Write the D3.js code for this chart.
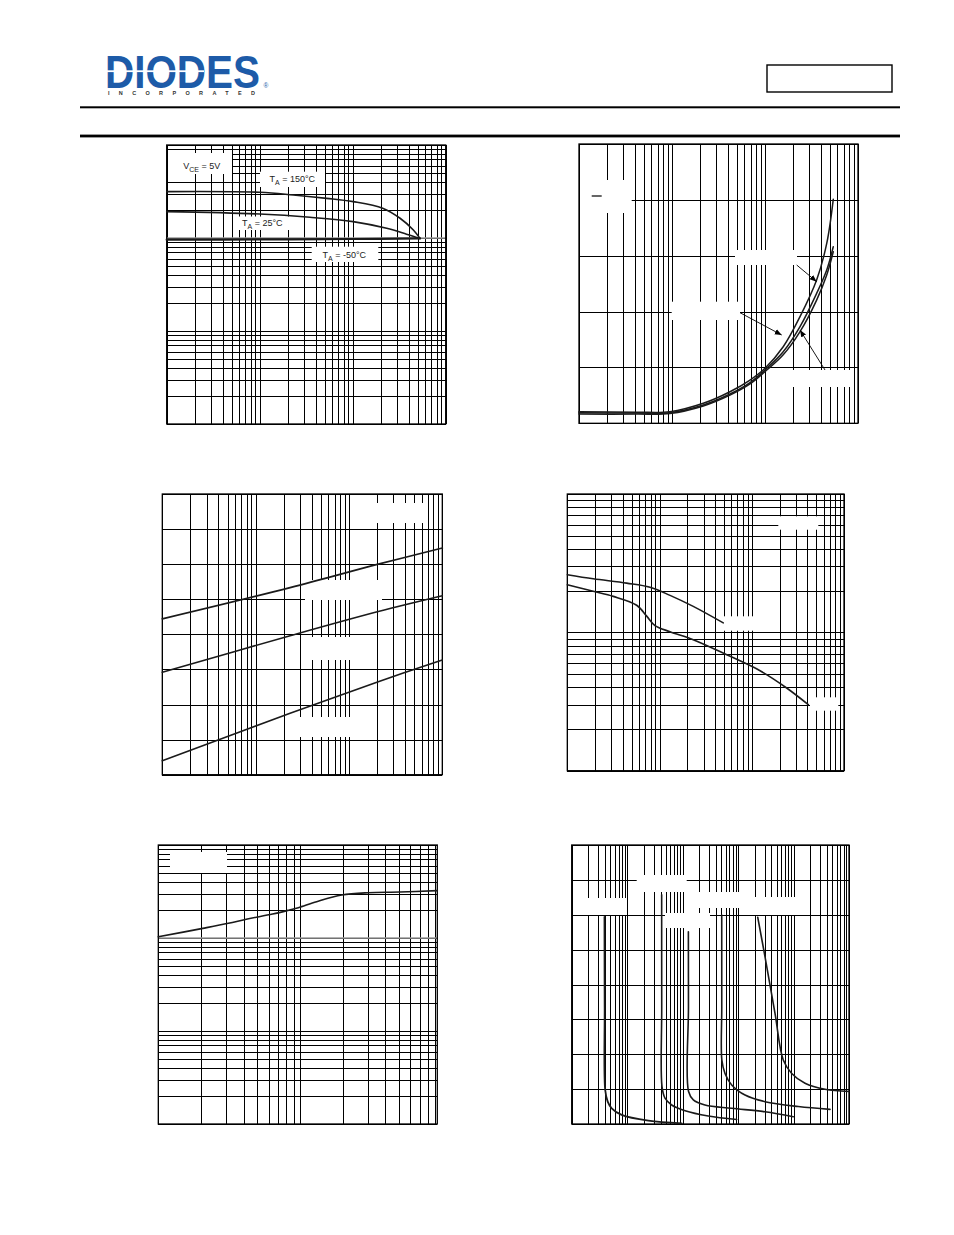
<!DOCTYPE html>
<html><head><meta charset="utf-8">
<script src="https://cdn.jsdelivr.net/npm/d3@7"></script>
<style>body{margin:0;background:#fff;} svg{display:block;}</style>
</head><body>
<svg id="page" width="954" height="1235"></svg>
<script>
// ---------- DATA ----------
// Chart 1 (log-log): three temperature curves
const c1x150 = [1, 10, 23, 52.5, 101, 210, 323, 449, 529];
const c1y150 = [315, 310, 290, 267, 246, 209, 163, 122, 99];
const c1x25  = [1, 10, 34.7, 101, 232, 379, 529];
const c1y25  = [192, 181, 167, 150, 127, 110, 99];
const c1xM50 = [1, 10, 100, 529];
const c1yM50 = [96, 96.5, 97.5, 99];
const c1Labels = ["V", "CE", " = 5V", "T", "A", " = 150°C", " = 25°C", " = -50°C"];

// Chart 2 (log x, linear y): three rising curves
const c2x  = [1, 4.17, 9.5, 21.7, 42.0, 69.0, 100, 157, 238, 359, 461, 542];
const c2yA = [0.0415, 0.040, 0.0415, 0.0716, 0.113, 0.155, 0.197, 0.274, 0.382, 0.513, 0.644, 0.802];
const c2yB = [0.038, 0.037, 0.038, 0.0655, 0.105, 0.146, 0.191, 0.256, 0.346, 0.465, 0.549, 0.632];
const c2yC = [0.033, 0.033, 0.035, 0.062, 0.101, 0.141, 0.185, 0.245, 0.328, 0.441, 0.531, 0.614];

// Chart 3 (log x, linear y): three straight-ish lines
const c3x  = [1, 23.4, 206, 1000];
const c3y1 = [4.44, 5.33, 6.00, 6.46];
const c3y2 = [2.92, 3.96, 4.65, 5.10];
const c3y3 = [0.40, 1.75, 2.65, 3.27];

// Chart 4 (log-log): two falling curves
const c4xA = [1, 1.91, 4.40, 7.88, 13.0, 23.2, 49.1];
const c4yA = [26.1, 24.4, 22.7, 21.2, 18.5, 15.4, 11.7];
const c4xB = [1, 1.91, 3.15, 5.65, 7.26, 8.93, 13.0, 23.2, 53.5, 123, 239, 410];
const c4yB = [22.1, 19.8, 18.2, 15.7, 13.1, 11.2, 10.1, 8.85, 6.89, 5.28, 3.96, 3.0];

// Chart 5 (log-log): one rising curve
const c5x = [1, 2.06, 3.12, 4.25, 6.41, 8.41, 9.73, 13.1, 19.7, 30.3, 50.8, 93];
const c5y = [103, 127, 144, 160, 181, 200, 212, 246, 290, 307, 312, 323];

// Chart 6 (log x, linear y): five drop-off curves
const c6x1 = [3.90, 3.93, 4.02, 4.46, 5.26, 7.97, 24.1, 96.2];
const c6y1 = [5.94, 3.36, 0.975, 0.64, 0.45, 0.26, 0.095, 0.02];
const c6x2 = [41.9, 42.0, 42.5, 48.1, 63.5, 111, 290, 944];
const c6y2 = [6.57, 3.36, 1.07, 0.74, 0.545, 0.38, 0.23, 0.13];
const c6x3 = [127, 127.5, 128, 156, 253, 767, 3055, 9910];
const c6y3 = [5.51, 3.36, 0.93, 0.69, 0.545, 0.45, 0.35, 0.21];
const c6x4 = [507, 508, 510, 581, 767, 1334, 3055, 12190, 45400];
const c6y4 = [5.99, 3.36, 1.835, 1.45, 1.12, 0.83, 0.64, 0.50, 0.42];
const c6x5 = [2259, 3055, 4634, 6530, 9270, 16100, 36900, 100000];
const c6y5 = [5.93, 4.80, 3.17, 1.835, 1.45, 1.17, 0.995, 0.93];

// ---------- LAYOUT ----------
const svg = d3.select('#page');
const FONT = "'Liberation Sans', Arial, sans-serif";

// Header
svg.append('text').attr('x', 105).attr('y', 88).attr('font-family', FONT)
  .attr('font-weight', 'bold').attr('font-size', 46).attr('fill', '#1d5ba8')
  .attr('textLength', 155).attr('lengthAdjust', 'spacingAndGlyphs').text('DIODES');
svg.append('rect').attr('x', 104).attr('y', 70.3).attr('width', 100).attr('height', 1.8).attr('fill', '#fff');
svg.append('text').attr('x', 108).attr('y', 95).attr('font-family', FONT)
  .attr('font-weight', 'bold').attr('font-size', 5.5).attr('fill', '#333')
  .attr('textLength', 147).attr('lengthAdjust', 'spacing').text('INCORPORATED');
svg.append('text').attr('x', 263.5).attr('y', 87.5).attr('font-family', FONT)
  .attr('font-size', 6.5).attr('fill', '#1d5ba8').text('®');
svg.append('rect').attr('x', 767).attr('y', 65).attr('width', 125).attr('height', 27)
  .attr('fill', 'none').attr('stroke', '#000').attr('stroke-width', 1.4);
svg.append('rect').attr('x', 80).attr('y', 106.3).attr('width', 820).attr('height', 2).attr('fill', '#000');
svg.append('rect').attr('x', 80).attr('y', 134.6).attr('width', 820).attr('height', 2.8).attr('fill', '#000');

// Arrow marker
svg.append('defs').append('marker').attr('id', 'arr').attr('viewBox', '0 0 10 10')
  .attr('refX', 10).attr('refY', 5).attr('markerWidth', 7).attr('markerHeight', 7)
  .attr('markerUnits', 'userSpaceOnUse').attr('orient', 'auto')
  .append('path').attr('d', 'M0,1 L10,5 L0,9 Z').attr('fill', '#000');

function chart(cfg) {
  const g = svg.append('g');
  const x = (cfg.xLog ? d3.scaleLog() : d3.scaleLinear()).domain(cfg.xDomain).range([cfg.x0, cfg.x1]);
  const y = (cfg.yLog ? d3.scaleLog() : d3.scaleLinear()).domain(cfg.yDomain).range([cfg.y1, cfg.y0]);
  const xt = cfg.xLog ? x.ticks() : x.ticks(cfg.xDivs);
  const yt = cfg.yLog ? y.ticks() : y.ticks(cfg.yDivs);
  const gx = g.append('g').attr('transform', `translate(0,${cfg.y1})`)
    .call(d3.axisBottom(x).tickValues(xt).tickSize(-(cfg.y1 - cfg.y0)).tickFormat(''));
  const gy = g.append('g').attr('transform', `translate(${cfg.x0},0)`)
    .call(d3.axisLeft(y).tickValues(yt).tickSize(-(cfg.x1 - cfg.x0)).tickFormat(''));
  [gx, gy].forEach(a => {
    a.select('.domain').remove();
    a.selectAll('line').attr('stroke', '#000').attr('stroke-width', 1).attr('shape-rendering', 'crispEdges');
  });
  if (cfg.grayY) {
    g.append('line').attr('x1', cfg.x0).attr('x2', cfg.x1)
      .attr('y1', y(cfg.grayY)).attr('y2', y(cfg.grayY))
      .attr('stroke', '#9a9a9a').attr('stroke-width', 1.6);
  }
  g.append('rect').attr('x', cfg.x0).attr('y', cfg.y0).attr('width', cfg.x1 - cfg.x0)
    .attr('height', cfg.y1 - cfg.y0).attr('fill', 'none').attr('stroke', '#000').attr('stroke-width', 1.3);
  (cfg.boxes || []).forEach(b => {
    g.append('rect').attr('x', b[0]).attr('y', b[1]).attr('width', b[2] - b[0]).attr('height', b[3] - b[1]).attr('fill', '#fff');
  });
  const line = d3.line().x(d => x(d[0])).y(d => y(d[1])).curve(d3.curveCatmullRom.alpha(0.5));
  cfg.series.forEach(s => {
    const pts = s[0].map((v, i) => [v, s[1][i]]);
    g.append('path').attr('d', line(pts)).attr('fill', 'none').attr('stroke', '#1a1a1a')
      .attr('stroke-width', s[2] || 1.6).attr('stroke-linejoin', 'round').attr('stroke-linecap', 'round');
  });
  return { g, x, y };
}

// Chart 1
const ch1 = chart({ x0: 166.7, x1: 445.7, y0: 145, y1: 424, xLog: true, yLog: true,
  xDomain: [1, 1000], yDomain: [1, 1000], grayY: 100,
  boxes: [[168, 153, 232, 174], [260, 171.7, 325, 187], [238, 216.5, 290, 230], [311.7, 246.7, 378.3, 262]],
  series: [[c1x150, c1y150, 1.6], [c1x25, c1y25, 1.6], [c1xM50, c1yM50, 2.2]] });
function label(g, xp, yp, main, sub, rest) {
  const t = g.append('text').attr('x', xp).attr('y', yp).attr('font-family', FONT)
    .attr('font-size', 9).attr('fill', '#222');
  t.append('tspan').text(main);
  t.append('tspan').attr('dy', 3).attr('font-size', 7).text(sub);
  t.append('tspan').attr('dy', -3).text(rest);
}
label(ch1.g, 183.3, 168.5, c1Labels[0], c1Labels[1], c1Labels[2]);
label(ch1.g, 269.5, 182, c1Labels[3], c1Labels[4], c1Labels[5]);
label(ch1.g, 242, 226, c1Labels[3], c1Labels[4], c1Labels[6]);
label(ch1.g, 322.5, 258, c1Labels[3], c1Labels[4], c1Labels[7]);

// Chart 2
const ch2 = chart({ x0: 579, x1: 858, y0: 144, y1: 423.3, xLog: true, yLog: false,
  xDomain: [1, 1000], yDomain: [0, 1], yDivs: 5,
  boxes: [[580, 180, 631.7, 213], [735, 250, 797, 265], [671.7, 301.7, 740, 320], [793, 370, 850, 387]],
  series: [[c2x, c2yA, 1.5], [c2x, c2yB, 1.5], [c2x, c2yC, 1.5]] });
ch2.g.append('line').attr('x1', 591.7).attr('x2', 601.7).attr('y1', 196).attr('y2', 196)
  .attr('stroke', '#000').attr('stroke-width', 1.2);
[[796.7, 265, 816.7, 281.7], [740, 312.7, 781.7, 335], [825, 370, 800, 330]].forEach(a => {
  ch2.g.append('line').attr('x1', a[0]).attr('y1', a[1]).attr('x2', a[2]).attr('y2', a[3])
    .attr('stroke', '#000').attr('stroke-width', 0.9).attr('marker-end', 'url(#arr)');
});

// Chart 3
chart({ x0: 162.3, x1: 442.3, y0: 494, y1: 774.7, xLog: true, yLog: false,
  xDomain: [1, 1000], yDomain: [0, 8], yDivs: 8,
  boxes: [[374, 503, 428, 523], [305, 580, 382, 600], [306, 637, 352, 660], [297, 717, 352, 737]],
  series: [[c3x, c3y1, 1.7], [c3x, c3y2, 1.6], [c3x, c3y3, 1.6]] });

// Chart 4
chart({ x0: 567.3, x1: 844, y0: 494, y1: 770.7, xLog: true, yLog: true,
  xDomain: [1, 1000], yDomain: [1, 100],
  boxes: [[778.3, 516.3, 818.3, 529.7], [723.3, 616.3, 753.3, 630.7], [810, 697.3, 838.3, 710.7]],
  series: [[c4xA, c4yA, 1.6], [c4xB, c4yB, 1.6]] });

// Chart 5
chart({ x0: 158.3, x1: 437.3, y0: 845, y1: 1124, xLog: true, yLog: true,
  xDomain: [1, 93], yDomain: [1, 1000], grayY: 100,
  boxes: [[170, 852, 227, 873]],
  series: [[c5x, c5y, 1.6]] });

// Chart 6
chart({ x0: 571.7, x1: 849, y0: 845, y1: 1124, xLog: true, yLog: false,
  xDomain: [1, 100000], yDomain: [0, 8], yDivs: 8,
  boxes: [[584, 898, 627, 915], [636.7, 875, 686.7, 892], [665, 913, 710, 928], [698, 892, 748, 908], [748, 897, 802, 915]],
  series: [[c6x1, c6y1, 1.8], [c6x2, c6y2, 1.6], [c6x3, c6y3, 1.6], [c6x4, c6y4, 1.6], [c6x5, c6y5, 1.6]] });
</script>
</body></html>
